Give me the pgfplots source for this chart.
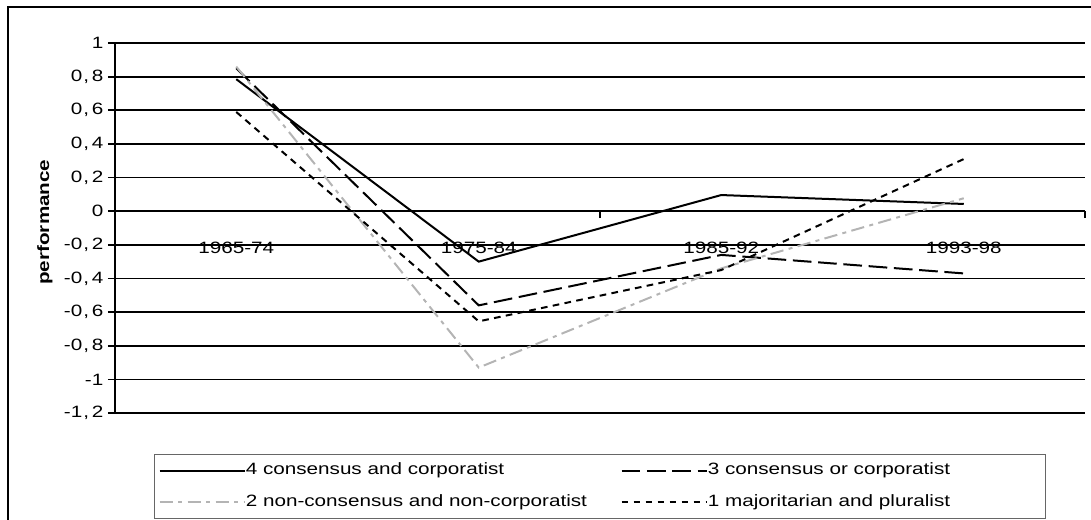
\documentclass[border=0pt]{standalone}
\usepackage{fontspec}
\setmainfont{Liberation Sans}
\usepackage{graphicx}
\usepackage{pgfplots}
\pgfplotsset{compat=1.18}
\definecolor{lgray}{RGB}{180,180,180}
\newcommand{\sx}[1]{\scalebox{1.26}[1]{#1}}
\newcommand{\cm}{\kern0.6pt,\kern1.6pt}
\begin{document}
\begin{tikzpicture}[x=1pt,y=1pt]
\useasboundingbox (0,0) rectangle (818.25,-389.25);
\draw[line width=2pt] (6,-5.25) rectangle (830,-400);
\begin{axis}[
  at={(86.25pt,-309.75pt)}, anchor=south west,
  scale only axis, width=727.5pt, height=277.5pt,
  xmin=0.5, xmax=4.5, ymin=-1.2, ymax=1,
  axis x line=middle, axis y line=left,
  axis line style={-, line width=1.3pt, black},
  font=\fontsize{12.3pt}{14pt}\selectfont,
  ytick={-1.2,-1,-0.8,-0.6,-0.4,-0.2,0,0.2,0.4,0.6,0.8,1},
  yticklabels={\sx{-1\cm2},\sx{-1},\sx{-0\cm8},\sx{-0\cm6},\sx{-0\cm4},\sx{-0\cm2},\sx{0},\sx{0\cm2},\sx{0\cm4},\sx{0\cm6},\sx{0\cm8},\sx{1}},
  ymajorgrids, grid style={black, line width=1.3pt},
  ytick align=outside, ytick pos=left,
  xtick align=outside,
  major tick length=5.25pt,
  tick style={black, line width=1.3pt},
  xtick={2.5,4.5},
  xticklabels={},
  extra x ticks={1,2,3,4},
  extra x tick labels={\sx{1965-74},\sx{1975-84},\sx{1985-92},\sx{1993-98}},
  extra x tick style={tick style={draw=none}, xticklabel style={anchor=north, yshift=-14pt}},
  ylabel={\sx{\bfseries performance}},
  ylabel style={at={(axis description cs:-0.0722,0.516)}, anchor=center},
  legend columns=2,
  legend cell align=left,
  legend image code/.code={\draw[#1] (0pt,0pt) -- (64pt,0pt);},
  legend style={at={(axis description cs:0.0402,-0.112)}, anchor=north west,
    draw=black!60, line width=0.75pt, inner xsep=3pt, inner ysep=4pt,
    row sep=7.5pt, column sep=0pt,
    nodes={inner xsep=0pt, text height=9pt, text depth=3pt},
    font=\fontsize{12.3pt}{14pt}\selectfont},
]
\addplot[black, line width=1.5pt] coordinates {(1,0.785) (2,-0.30) (3,0.096) (4,0.043)};
\addlegendentry{\makebox[281pt][l]{\sx{4 consensus and corporatist}}}
\addplot[black, line width=1.5pt, dash pattern=on 14pt off 5pt] coordinates {(1,0.85) (2,-0.56) (3,-0.26) (4,-0.37)};
\addlegendentry{\makebox[250pt][l]{\sx{3 consensus or corporatist}}}
\addplot[lgray, line width=1.5pt, dash pattern=on 10pt off 4pt on 3pt off 4pt] coordinates {(1,0.86) (2,-0.93) (3,-0.34) (4,0.077)};
\addlegendentry{\makebox[281pt][l]{\sx{2 non-consensus and non-corporatist}}}
\addplot[black, line width=1.5pt, dash pattern=on 5pt off 4pt] coordinates {(1,0.59) (2,-0.655) (3,-0.35) (4,0.31)};
\addlegendentry{\makebox[250pt][l]{\sx{1 majoritarian and pluralist}}}
\end{axis}
\end{tikzpicture}
\end{document}
